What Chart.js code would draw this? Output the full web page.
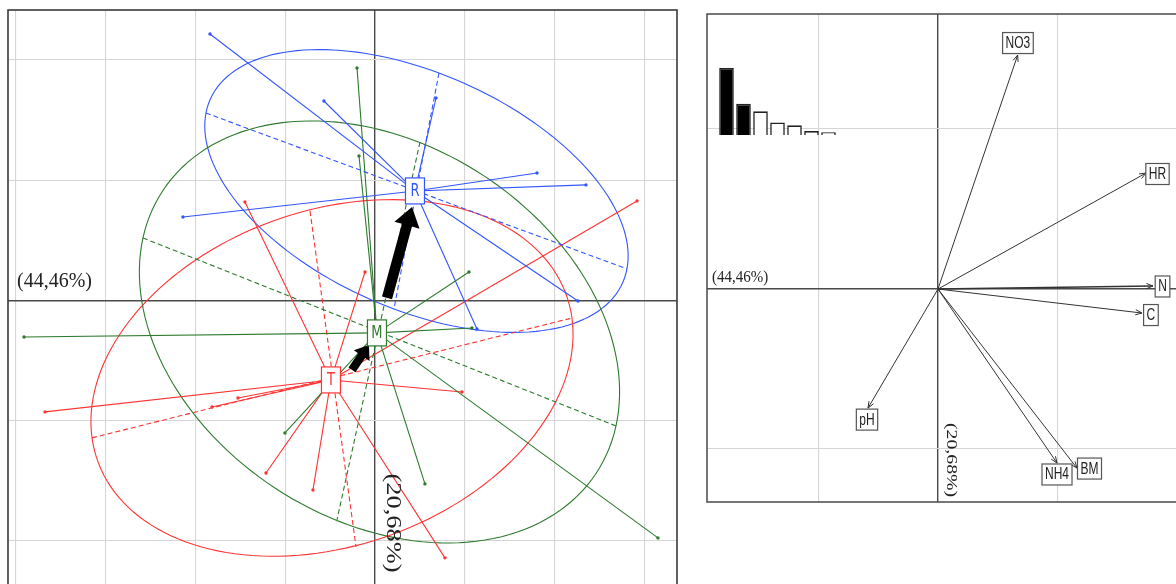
<!DOCTYPE html>
<html><head><meta charset="utf-8">
<script src="https://cdn.jsdelivr.net/npm/chart.js@4/dist/chart.umd.min.js"></script>
<style>
html,body{margin:0;padding:0;background:#fff;overflow:hidden;width:1176px;height:584px;position:relative}
canvas{position:absolute}
</style></head><body>
<canvas id="left" width="677" height="593" style="left:4px;top:6px;width:677px;height:593px"></canvas>
<canvas id="right" width="491" height="496" style="left:703px;top:10px;width:491px;height:496px"></canvas>
<canvas id="eig" width="123" height="71" style="left:716px;top:66px;width:123px;height:71px"></canvas>
<script>
// ---------- data: left panel (classes on PCA plane) ----------
const groupNames = ['R', 'M', 'T'];
const groupColors = ['#3355ff', '#2e7a2e', '#ff3333'];
const centerX = [0.445, 0.022, -0.490];
const centerY = [0.911, -0.270, -0.661];
const rPointsX = [-1.836, -0.568, 0.679, -2.137, 1.803, 2.348, 2.259, 1.135];
const rPointsY = [2.216, 1.659, 1.684, 0.694, 1.060, 0.961, -0.004, -0.237];
const mPointsX = [-3.906, -0.200, -0.178, 1.046, 1.079, 0.556, 3.149, -1.002];
const mPointsY = [-0.304, 1.933, 1.202, 0.237, -0.229, -1.526, -1.975, -1.102];
const tPointsX = [-3.672, -1.814, -1.525, -1.213, -0.690, 0.968, 0.779, 2.916, -1.447, -0.111];
const tPointsY = [-0.927, -0.886, -0.811, -1.435, -1.576, -0.761, -2.141, 0.827, 0.819, 0.237];
// ellipse axes (end points)
const rMajor = [[-1.881, 1.559], [2.804, 0.262]];
const rMinor = [[0.712, 1.892], [0.211, -0.071]];
const mMajor = [[-2.582, 0.520], [2.682, -1.044]];
const mMinor = [[0.501, 1.318], [-0.423, -1.825]];
const tMajor = [[-3.149, -1.143], [2.192, -0.146]];
const tMinor = [[-0.723, 0.744], [-0.211, -2.050]];
// trajectory arrows T->M, M->R
const arrowFromX = [-0.256, 0.134];
const arrowFromY = [-0.578, 0.021];
const arrowToX = [-0.067, 0.412];
const arrowToY = [-0.370, 0.778];
const leftTicksX = [-4, -3, -2, -1, 0, 1, 2, 3];
const leftTicksY = [-2, -1, 0, 1, 2];
const axisLabelX = '(44,46%)';
const axisLabelY = '(20,68%)';

// ---------- data: right panel (correlation circle) ----------
const varNames = ['NO3', 'HR', 'N', 'C', 'pH', 'NH4', 'BM'];
const varX = [0.667, 1.741, 1.799, 1.707, -0.586, 0.996, 1.163];
const varY = [1.4625, 0.725, 0.019, -0.150, -0.744, -1.0875, -1.119];
const varLabelX = [0.669, 1.837, 1.879, 1.782, -0.594, 0.996, 1.268];
const varLabelY = [1.5375, 0.719, 0.016, -0.1625, -0.816, -1.159, -1.122];
const rightTicksX = [-1, 0, 1, 2];
const rightTicksY = [-1, 0, 1];
const eigenValues = [3.112, 1.448, 1.10, 0.58, 0.45, 0.18, 0.13];
const eigenKept = 2;

// ---------- helpers ----------
function gridColor(ctx) { return ctx.tick && ctx.tick.value === 0 ? '#4a4a4a' : '#d6d6d6'; }
function gridWidth(ctx) { return ctx.tick && ctx.tick.value === 0 ? 1.4 : 1.1; }
function fixedTicks(list) { return function (scale) { scale.ticks = list.map(v => ({ value: v })); }; }
function stretchedText(ctx, txt, x, y, font, color, rot, sx, sy, align) {
  ctx.save();
  ctx.translate(x, y);
  if (rot) ctx.rotate(rot);
  ctx.scale(sx, sy);
  ctx.font = font;
  ctx.fillStyle = color;
  ctx.textAlign = align || 'center';
  ctx.textBaseline = 'middle';
  ctx.fillText(txt, 0, 0);
  ctx.restore();
}
function blockArrow(ctx, x0, y0, x1, y1, w, hl, hw) {
  const dx = x1 - x0, dy = y1 - y0, L = Math.hypot(dx, dy), ux = dx / L, uy = dy / L, nx = -uy, ny = ux;
  const bx = x1 - ux * hl, by = y1 - uy * hl;
  ctx.beginPath();
  ctx.moveTo(x0 + nx * w, y0 + ny * w);
  ctx.lineTo(bx + nx * w, by + ny * w);
  ctx.lineTo(bx + nx * hw, by + ny * hw);
  ctx.lineTo(x1, y1);
  ctx.lineTo(bx - nx * hw, by - ny * hw);
  ctx.lineTo(bx - nx * w, by - ny * w);
  ctx.lineTo(x0 - nx * w, y0 - ny * w);
  ctx.closePath();
  ctx.fill();
}

// ---------- left chart ----------
const groupPointsX = [rPointsX, mPointsX, tPointsX];
const groupPointsY = [rPointsY, mPointsY, tPointsY];
const groupMajor = [rMajor, mMajor, tMajor];
const groupMinor = [rMinor, mMinor, tMinor];
const leftDatasets = [];
groupNames.forEach((g, gi) => {
  const col = groupColors[gi];
  [groupMajor[gi], groupMinor[gi]].forEach(ax => {
    leftDatasets.push({
      data: [{ x: ax[0][0], y: ax[0][1] }, { x: ax[1][0], y: ax[1][1] }],
      showLine: true, borderColor: col, borderWidth: 1.1, borderDash: [5, 3], pointRadius: 0
    });
  });
  groupPointsX[gi].forEach((px, i) => {
    leftDatasets.push({
      data: [{ x: centerX[gi], y: centerY[gi] }, { x: px, y: groupPointsY[gi][i] }],
      showLine: true, borderColor: col, borderWidth: 1.1, pointRadius: [0, 1.7],
      pointBackgroundColor: col, pointBorderWidth: 0
    });
  });
});

const leftDecor = {
  id: 'leftDecor',
  beforeDatasetsDraw(chart) {
    const { ctx, scales: { x, y } } = chart;
    ctx.save();
    ctx.lineWidth = 1.1;
    groupNames.forEach((g, gi) => {
      const M = groupMajor[gi], N = groupMinor[gi];
      const a0 = [x.getPixelForValue(M[0][0]), y.getPixelForValue(M[0][1])];
      const a1 = [x.getPixelForValue(M[1][0]), y.getPixelForValue(M[1][1])];
      const b0 = [x.getPixelForValue(N[0][0]), y.getPixelForValue(N[0][1])];
      const b1 = [x.getPixelForValue(N[1][0]), y.getPixelForValue(N[1][1])];
      const c = [(a0[0] + a1[0]) / 2, (a0[1] + a1[1]) / 2];
      const a = [a1[0] - c[0], a1[1] - c[1]];
      const b = [(b0[0] - b1[0]) / 2, (b0[1] - b1[1]) / 2];
      ctx.strokeStyle = groupColors[gi];
      ctx.beginPath();
      for (let k = 0; k <= 160; k++) {
        const t = k / 160 * Math.PI * 2;
        const px = c[0] + Math.cos(t) * a[0] + Math.sin(t) * b[0];
        const py = c[1] + Math.cos(t) * a[1] + Math.sin(t) * b[1];
        if (k === 0) ctx.moveTo(px, py); else ctx.lineTo(px, py);
      }
      ctx.stroke();
    });
    ctx.restore();
  },
  afterDatasetsDraw(chart) {
    const { ctx, chartArea: A, scales: { x, y } } = chart;
    ctx.save();
    ctx.fillStyle = '#000';
    const sizes = [[4.2, 13, 9.5], [5.2, 19, 13]];
    arrowFromX.forEach((v, i) => {
      blockArrow(ctx, x.getPixelForValue(v), y.getPixelForValue(arrowFromY[i]),
        x.getPixelForValue(arrowToX[i]), y.getPixelForValue(arrowToY[i]), sizes[i][0], sizes[i][1], sizes[i][2]);
    });
    groupNames.forEach((g, gi) => {
      const cx = x.getPixelForValue(centerX[gi]), cy = y.getPixelForValue(centerY[gi]);
      ctx.fillStyle = '#fff';
      ctx.fillRect(cx - 9.5, cy - 13, 19, 26);
      ctx.strokeStyle = groupColors[gi];
      ctx.lineWidth = 1.2;
      ctx.strokeRect(cx - 9.5, cy - 13, 19, 26);
      stretchedText(ctx, g, cx, cy + 1, '13px "DejaVu Sans"', groupColors[gi], 0, 1, 1.3);
    });
    // axis labels
    stretchedText(ctx, axisLabelX, A.left + 9, y.getPixelForValue(0) - 19, '20px "Liberation Serif"', '#222', 0, 1, 1.05, 'left');
    stretchedText(ctx, axisLabelY, x.getPixelForValue(0) + 17, A.bottom - 72, '20px "Liberation Serif"', '#222', Math.PI / 2, 1.32, 1, 'center');
    ctx.restore();
  },
  afterDraw(chart) {
    const { ctx, chartArea: A } = chart;
    ctx.save();
    ctx.strokeStyle = '#3a3a3a';
    ctx.lineWidth = 1.6;
    ctx.strokeRect(A.left, A.top, A.width, A.height);
    ctx.restore();
  }
};

new Chart(document.getElementById('left'), {
  type: 'scatter',
  data: { datasets: leftDatasets },
  options: {
    responsive: false, animation: false, events: [],
    layout: { padding: 4 },
    elements: { line: { tension: 0 } },
    plugins: { legend: { display: false }, tooltip: { enabled: false } },
    scales: {
      x: {
        min: -4.084, max: 3.361, afterBuildTicks: fixedTicks(leftTicksX),
        ticks: { display: false }, border: { display: false },
        grid: { drawTicks: false, color: gridColor, lineWidth: gridWidth }
      },
      y: {
        min: -2.45, max: 2.416, afterBuildTicks: fixedTicks(leftTicksY),
        ticks: { display: false }, border: { display: false },
        grid: { drawTicks: false, color: gridColor, lineWidth: gridWidth }
      }
    }
  },
  plugins: [leftDecor]
});

// ---------- right chart ----------
const rightDatasets = varNames.map((n, i) => ({
  data: [{ x: 0, y: 0 }, { x: varX[i], y: varY[i] }],
  showLine: true, borderColor: '#333', borderWidth: n === 'N' ? 1.6 : 1, pointRadius: 0
}));

const rightDecor = {
  id: 'rightDecor',
  afterDatasetsDraw(chart) {
    const { ctx, chartArea: A, scales: { x, y } } = chart;
    ctx.save();
    const x0 = x.getPixelForValue(0), y0 = y.getPixelForValue(0);
    ctx.strokeStyle = '#333';
    ctx.lineWidth = 1;
    varNames.forEach((n, i) => {
      const x1 = x.getPixelForValue(varX[i]), y1 = y.getPixelForValue(varY[i]);
      const ang = Math.atan2(y1 - y0, x1 - x0);
      ctx.beginPath();
      [0.38, -0.38].forEach(d => {
        ctx.moveTo(x1, y1);
        ctx.lineTo(x1 - 7 * Math.cos(ang + d), y1 - 7 * Math.sin(ang + d));
      });
      ctx.stroke();
    });
    ctx.font = '12px "Liberation Sans"';
    varNames.forEach((n, i) => {
      const lx = x.getPixelForValue(varLabelX[i]), ly = y.getPixelForValue(varLabelY[i]);
      const w = ctx.measureText(n).width + 6, h = 21;
      ctx.fillStyle = '#fff';
      ctx.fillRect(lx - w / 2, ly - h / 2, w, h);
      ctx.strokeStyle = '#555';
      ctx.lineWidth = 1.2;
      ctx.strokeRect(lx - w / 2, ly - h / 2, w, h);
      stretchedText(ctx, n, lx, ly + 0.5, '12px "Liberation Sans"', '#222', 0, 1, 1.35);
    });
    stretchedText(ctx, axisLabelX, A.left + 5, y0 - 11, '15px "Liberation Serif"', '#222', 0, 1, 1.05, 'left');
    stretchedText(ctx, axisLabelY, x0 + 13, A.bottom - 42, '15px "Liberation Serif"', '#222', Math.PI / 2, 1.32, 1, 'center');
    ctx.restore();
  },
  afterDraw(chart) {
    const { ctx, chartArea: A } = chart;
    ctx.save();
    ctx.strokeStyle = '#4a4a4a';
    ctx.lineWidth = 1.5;
    ctx.strokeRect(A.left, A.top, A.width, A.height);
    ctx.restore();
  }
};

new Chart(document.getElementById('right'), {
  type: 'scatter',
  data: { datasets: rightDatasets },
  options: {
    responsive: false, animation: false, events: [],
    layout: { padding: 4 },
    plugins: { legend: { display: false }, tooltip: { enabled: false } },
    scales: {
      x: {
        min: -1.933, max: 2.109, afterBuildTicks: fixedTicks(rightTicksX),
        ticks: { display: false }, border: { display: false },
        grid: { drawTicks: false, color: gridColor, lineWidth: gridWidth }
      },
      y: {
        min: -1.331, max: 1.719, afterBuildTicks: fixedTicks(rightTicksY),
        ticks: { display: false }, border: { display: false },
        grid: { drawTicks: false, color: gridColor, lineWidth: gridWidth }
      }
    }
  },
  plugins: [rightDecor]
});

// ---------- eigenvalue inset ----------
new Chart(document.getElementById('eig'), {
  type: 'bar',
  data: {
    labels: eigenValues.map((v, i) => String(i + 1)),
    datasets: [{
      data: eigenValues,
      backgroundColor: eigenValues.map((v, i) => i < eigenKept ? '#000' : '#fff'),
      borderColor: '#222', borderWidth: 1.6,
      barPercentage: 0.86, categoryPercentage: 1
    }]
  },
  options: {
    responsive: false, animation: false, events: [],
    layout: { padding: 2 },
    plugins: { legend: { display: false }, tooltip: { enabled: false } },
    scales: { x: { display: false }, y: { display: false, min: 0, max: 3.112 } }
  }
});
</script>
</body></html>
